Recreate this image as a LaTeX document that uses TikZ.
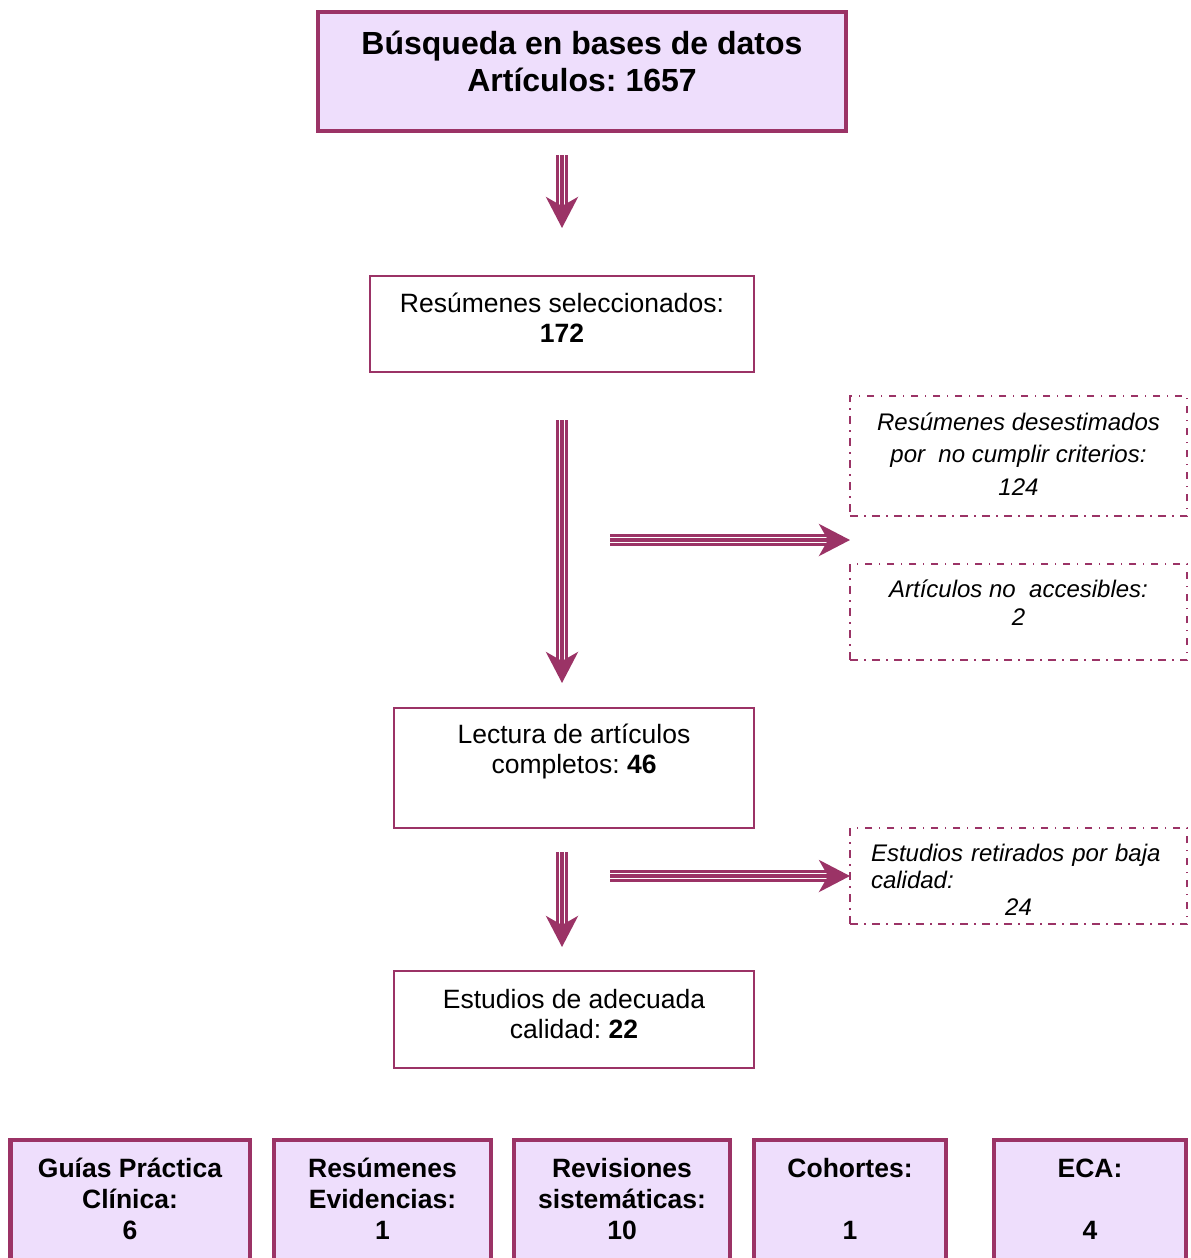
\documentclass[tikz,border=0pt]{standalone}
\usepackage{fontspec}
\setmainfont{Liberation Sans}
\usepackage{xcolor}
\usetikzlibrary{arrows.meta}
\definecolor{ciruela}{RGB}{155,51,102}
\definecolor{lila}{RGB}{238,222,252}
\frenchspacing

\begin{document}
\begin{tikzpicture}[x=1pt,y=-1pt,
  every label/.style={align=center,inner sep=0pt,text=black},
  grueso/.style={draw=ciruela,fill=lila,line width=4.5pt},
  fino/.style={draw=ciruela,line width=1.5pt},
  rayado/.style={draw=ciruela,line width=2pt,dash pattern=on 7.5pt off 6.5pt on 1.5pt off 6.5pt},
  flecha/.style={draw=ciruela,line width=2.5pt,double=white,double distance=6.3pt,shorten >=19pt,
    postaction={draw=ciruela,line width=3.8pt,shorten >=0pt,-{Stealth[length=31pt,width=32pt,inset=9pt]}}}]
  \useasboundingbox (0,0) rectangle (1191,1258);
  \fill[white] (0,0) rectangle (1191,1258);

  \node[grueso,minimum width=528pt,minimum height=119pt,
    label={[font=\bfseries\fontsize{32}{37}\selectfont,yshift=10pt]center:{Búsqueda en bases de datos\\Artículos: 1657}}] (busqueda) at (582,71.5) {};
  \node[fino,minimum width=384pt,minimum height=96pt,
    label={[font=\fontsize{26.5}{30.5}\selectfont,yshift=6.5pt]center:{Resúmenes seleccionados:\\\textbf{172}}}] (resumenes) at (562,324) {};
  \node[fino,minimum width=360pt,minimum height=120pt,
    label={[font=\fontsize{26.5}{30}\selectfont,yshift=17pt]center:{Lectura de artículos\\completos: \textbf{46}}}] (lectura) at (574,768) {};
  \node[fino,minimum width=360pt,minimum height=97pt,
    label={[font=\fontsize{26.5}{30}\selectfont,yshift=5.5pt]center:{Estudios de adecuada\\calidad: \textbf{22}}}] (adecuada) at (574,1019.5) {};

  \node[rayado,minimum width=337pt,minimum height=120pt,
    label={[font=\itshape\fontsize{24}{32.5}\selectfont,yshift=2pt]center:{Resúmenes desestimados\\por\ \ no cumplir criterios:\\124}}] (desestimados) at (1018.5,456) {};
  \node[rayado,minimum width=337pt,minimum height=96pt,
    label={[font=\itshape\fontsize{24}{28}\selectfont,yshift=9pt]center:{Artículos no\ \ accesibles:\\2}}] (noaccesibles) at (1018.5,612) {};
  \node[rayado,minimum width=337pt,minimum height=96pt,
    label={[font=\itshape\fontsize{24}{27}\selectfont,text width=295pt,align=left,yshift=-4pt]center:{Estudios retirados por baja\\calidad:\\\hspace*{\fill}24\hspace*{\fill}}}] (retirados) at (1018.5,876) {};

  \foreach \cx/\an/\txt [count=\i] in {130/239.5/{Guías Práctica\\Clínica:\\6},
      382.5/217/{Resúmenes\\Evidencias:\\1}, 622/216/{Revisiones\\sistemáticas:\\10},
      850/192/{Cohortes:\\\mbox{}\\1}, 1090/192/{ECA:\\\mbox{}\\4}}
    \node[grueso,minimum width=\an pt,minimum height=135pt,
      label={[font=\bfseries\fontsize{26.5}{31}\selectfont,yshift=8.5pt]center:{\txt}}] (tipo\i) at (\cx,1207.5) {};

  \coordinate (f1a) at (562,155); \coordinate (f1b) at (562,228);
  \coordinate (f2a) at (562,420); \coordinate (f2b) at (562,683);
  \coordinate (f3a) at (562,852); \coordinate (f3b) at (562,947);
  \coordinate (f4a) at (610,540); \coordinate (f4b) at (850,540);
  \coordinate (f5a) at (610,876); \coordinate (f5b) at (850,876);
  \foreach \k in {1,...,5}
    \draw[flecha] (f\k a) -- (f\k b);
\end{tikzpicture}
\end{document}
